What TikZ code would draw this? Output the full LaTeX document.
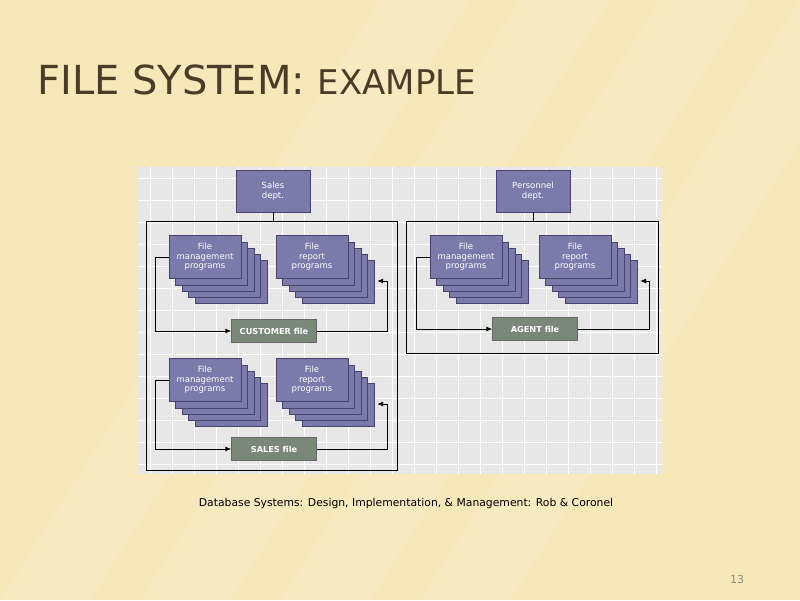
\documentclass[tikz,border=0pt]{standalone}
\usepackage{fontspec}
\setmainfont{DejaVu Sans}
\usetikzlibrary{calc,arrows.meta,positioning}
\definecolor{slidebg}{RGB}{246,232,184}
\definecolor{titlebrown}{RGB}{74,60,40}
\definecolor{panelgrey}{RGB}{230,231,230}
\definecolor{cardblue}{RGB}{124,122,170}
\definecolor{cardedge}{RGB}{70,68,110}
\definecolor{filegreen}{RGB}{122,136,122}
\tikzset{
  card/.style={draw=cardedge, fill=cardblue, minimum width=72pt, minimum height=43pt,
    text=white, font=\fontsize{8.5}{9.5}\selectfont, align=center, inner sep=1pt},
  dept/.style={card, minimum width=74pt, minimum height=42pt},
  datafile/.style={draw=black!60, fill=filegreen, minimum width=85pt, minimum height=23pt,
    text=white, font=\bfseries\fontsize{8.2}{9}\selectfont},
  flow/.style={line width=0.9pt, black},
  arrow/.style={flow, -{Latex[length=6pt,width=5pt]}}
}
% a stack of five program cards, front card named #1
\newcommand{\cardstack}[3]{
  \foreach \k in {4,3,2,1}
    \node[card] at ($(#2)+(6.5*\k,6.2*\k)$) {};
  \node[card] (#1) at (#2) {#3};
}
\begin{document}
\begin{tikzpicture}[x=1pt,y=-1pt]
  \useasboundingbox (0,0) rectangle (800,600);
  % slide background
  \fill[slidebg] (0,0) rectangle (800,600);
  \foreach \s in {0,140,280,420}
    \fill[white, opacity=0.13] (\s,600) -- (\s+90,600) -- (\s+470,0) -- (\s+380,0) -- cycle;

  % title
  \node[anchor=base west, text=titlebrown, inner sep=0pt] (title) at (37,94)
    {\fontsize{40}{44}\selectfont FILE SYSTEM: \fontsize{34}{38}\selectfont EXAMPLE};

  % figure panel
  \fill[panelgrey] (138,167) rectangle (662,474);
  \foreach \gx in {150,172,...,660}
    \draw[white, line width=0.6pt] (\gx,167) -- (\gx,474);
  \foreach \gy in {178,200,...,474}
    \draw[white, line width=0.6pt] (138,\gy) -- (662,\gy);

  % departments
  \node[dept] (sales) at (273,191) {Sales\\dept.};
  \node[dept] (personnel) at (533,191) {Personnel\\dept.};

  % outer boxes
  \draw[flow] (146,221) rectangle (397,470);
  \draw[flow] (406,221) rectangle (658,353);
  \draw[flow] (sales.south) -- (273,221);
  \draw[flow] (personnel.south) -- (533,221);

  % sales: customer group
  \cardstack{mgmtA}{205,257}{File\\management\\programs}
  \cardstack{reportA}{312,257}{File\\report\\programs}
  \node[datafile] (customer) at (274,331) {CUSTOMER file};
  \coordinate (tipA) at ($(reportA.east)+(29,24)$);
  \draw[arrow] (mgmtA.west) -- ++(-13,0) |- (customer.west);
  \draw[arrow] (customer.east) -- ++(71,0) |- (tipA);

  % sales: sales group
  \cardstack{mgmtB}{205,380}{File\\management\\programs}
  \cardstack{reportB}{312,380}{File\\report\\programs}
  \node[datafile] (salesfile) at (274,449) {SALES file};
  \coordinate (tipB) at ($(reportB.east)+(29,24)$);
  \draw[arrow] (mgmtB.west) -- ++(-13,0) |- (salesfile.west);
  \draw[arrow] (salesfile.east) -- ++(71,0) |- (tipB);

  % personnel: agent group
  \cardstack{mgmtC}{466,257}{File\\management\\programs}
  \cardstack{reportC}{575,257}{File\\report\\programs}
  \node[datafile] (agent) at (535,329) {AGENT file};
  \coordinate (tipC) at ($(reportC.east)+(29,24)$);
  \draw[arrow] (mgmtC.west) -- ++(-13,0) |- (agent.west);
  \draw[arrow] (agent.east) -- ++(72,0) |- (tipC);

  % caption and page number
  \node[font=\fontsize{10.8}{12}\selectfont] (caption) at (406,504)
    {Database Systems: Design, Implementation, \& Management: Rob \& Coronel};
  \node[text=black!45, font=\fontsize{11}{12}\selectfont] (page) at (737,579) {13};
\end{tikzpicture}
\end{document}
